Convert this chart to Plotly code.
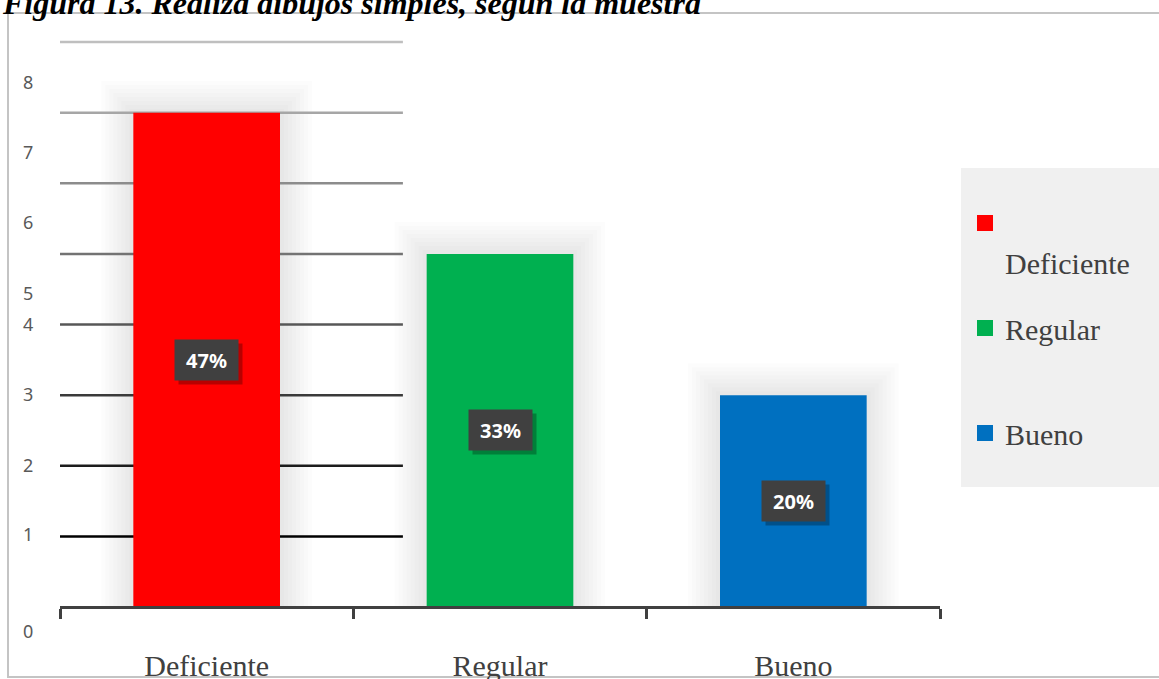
import plotly.graph_objects as go

# ---------------- data ----------------
categories = ["Deficiente", "Regular", "Bueno"]
counts = [7, 5, 3]
colors = ["#FF0000", "#00B050", "#0070C0"]
legend_names = ["&nbsp;<br>Deficiente", "Regular<br>&nbsp;", "Bueno"]
y_tick_labels = ["0", "1", "2", "3", "4", "5", "6", "7", "8"]
# the original chart shows its tick labels slightly displaced from the gridlines
y_tick_pos = [-0.354, 1.02, 2.0, 3.0, 4.0, 4.44, 5.44, 6.44, 7.42]
grid_levels = [1, 2, 3, 4, 5, 6, 7, 8]
grid_colors = ["#000000", "#1c1c1c", "#3a3a3a", "#575757", "#737373", "#8c8c8c", "#a6a6a6", "#bfbfbf"]
title_text = "Figura 13. Realiza dibujos simples, según la muestra"

W, H = 1159, 679
ML, MR = 60, 219
PW = W - ML - MR
total = sum(counts)

fig = go.Figure()

fig.add_trace(go.Bar(
    x=categories, y=counts, width=0.5,
    marker=dict(color=colors, line=dict(width=0)),
    showlegend=False, hoverinfo="skip",
))

for name, col, cat in zip(legend_names, colors, categories):
    fig.add_trace(go.Scatter(
        x=[None], y=[None], mode="markers", name=name, legendgroup=cat,
        marker=dict(symbol="square", size=16, color=col),
    ))

shapes = []
# soft glow behind bars
px_x = 1.0 / (PW / 3.0)
px_y = (8.595 + 1.019) / H
for i, v in enumerate(counts):
    for k in range(1, 9):
        dx = k * 4 * px_x
        dy = k * 4 * px_y
        shapes.append(dict(type="rect", xref="x", yref="y", layer="below",
                           x0=i - 0.25 - dx, x1=i + 0.25 + dx, y0=0, y1=v + dy,
                           fillcolor="rgba(0,0,0,0.013)", line=dict(width=0)))
# gridlines (only over first category area)
for lv, gc in zip(grid_levels, grid_colors):
    shapes.append(dict(type="line", xref="x", yref="y", layer="below",
                       x0=-0.5, x1=0.669, y0=lv, y1=lv,
                       line=dict(color=gc, width=2.5)))
# outer border
shapes.append(dict(type="rect", xref="paper", yref="paper", layer="below",
                   x0=(8 - ML) / PW, x1=(1162 - ML) / PW,
                   y0=1 - 677 / H, y1=1 - 13 / H,
                   line=dict(color="#c4c4c4", width=2), fillcolor="rgba(0,0,0,0)"))
# legend background
shapes.append(dict(type="rect", xref="paper", yref="paper", layer="below",
                   x0=(961 - ML) / PW, x1=(1165 - ML) / PW,
                   y0=1 - 487 / H, y1=1 - 168 / H,
                   line=dict(width=0), fillcolor="#f0f0f0"))

annotations = []
# data labels with shadow
for cat, v in zip(categories, counts):
    pct = f"{round(100 * v / total)}%"
    annotations.append(dict(x=cat, y=v / 2, xref="x", yref="y", text="",
                            showarrow=False, width=63, height=40, borderpad=0,
                            bgcolor="rgba(0,0,0,0.28)", xshift=4, yshift=-4))
    annotations.append(dict(x=cat, y=v / 2, xref="x", yref="y",
                            text=f"<b>{pct}</b>", showarrow=False,
                            width=63, height=40, borderpad=0, bgcolor="#404040",
                            font=dict(family="Noto Sans", size=20, color="#ffffff")))
# title (partly cut off at the top, as in the original)
annotations.append(dict(x=(0 - ML) / PW, y=1 - 23 / H, xref="paper", yref="paper",
                        xanchor="left", yanchor="bottom", showarrow=False,
                        text=f"<b><i>{title_text}</i></b>",
                        font=dict(family="Liberation Serif", size=32, color="#000000")))

fig.update_layout(
    width=W, height=H,
    margin=dict(l=ML, r=MR, t=0, b=0, pad=0, autoexpand=False),
    paper_bgcolor="#ffffff", plot_bgcolor="rgba(0,0,0,0)",
    shapes=shapes, annotations=annotations,
    bargap=0.5,
    legend=dict(
        x=(965 - ML) / PW, y=1 - 197 / H, xanchor="left", yanchor="top",
        bgcolor="rgba(0,0,0,0)", borderwidth=0,
        traceorder="grouped", tracegroupgap=24, valign="top",
        font=dict(family="Liberation Serif", size=30, color="#404040"),
    ),
    xaxis=dict(
        type="category", range=[-0.5, 2.5], anchor="free", position=72 / H,
        showline=True, linecolor="#404040", linewidth=3,
        ticks="outside", tickson="boundaries", ticklen=10, tickwidth=3, tickcolor="#404040",
        tickfont=dict(family="Liberation Serif", size=30, color="#404040"),
        ticklabelstandoff=31, showgrid=False, zeroline=False, fixedrange=True,
        automargin=False,
    ),
    yaxis=dict(
        range=[-1.019, 8.595], showgrid=False, zeroline=False, showline=False,
        tickmode="array", tickvals=y_tick_pos, ticktext=y_tick_labels,
        ticks="outside", ticklen=22, tickcolor="rgba(0,0,0,0)",
        tickfont=dict(family="Noto Sans", size=18, color="#595959"),
        fixedrange=True, automargin=False,
    ),
)

fig.write_html(
    "out.html",
    config={"displayModeBar": False},
    post_script="document.body.style.margin='0';document.body.style.overflow='hidden';",
)
